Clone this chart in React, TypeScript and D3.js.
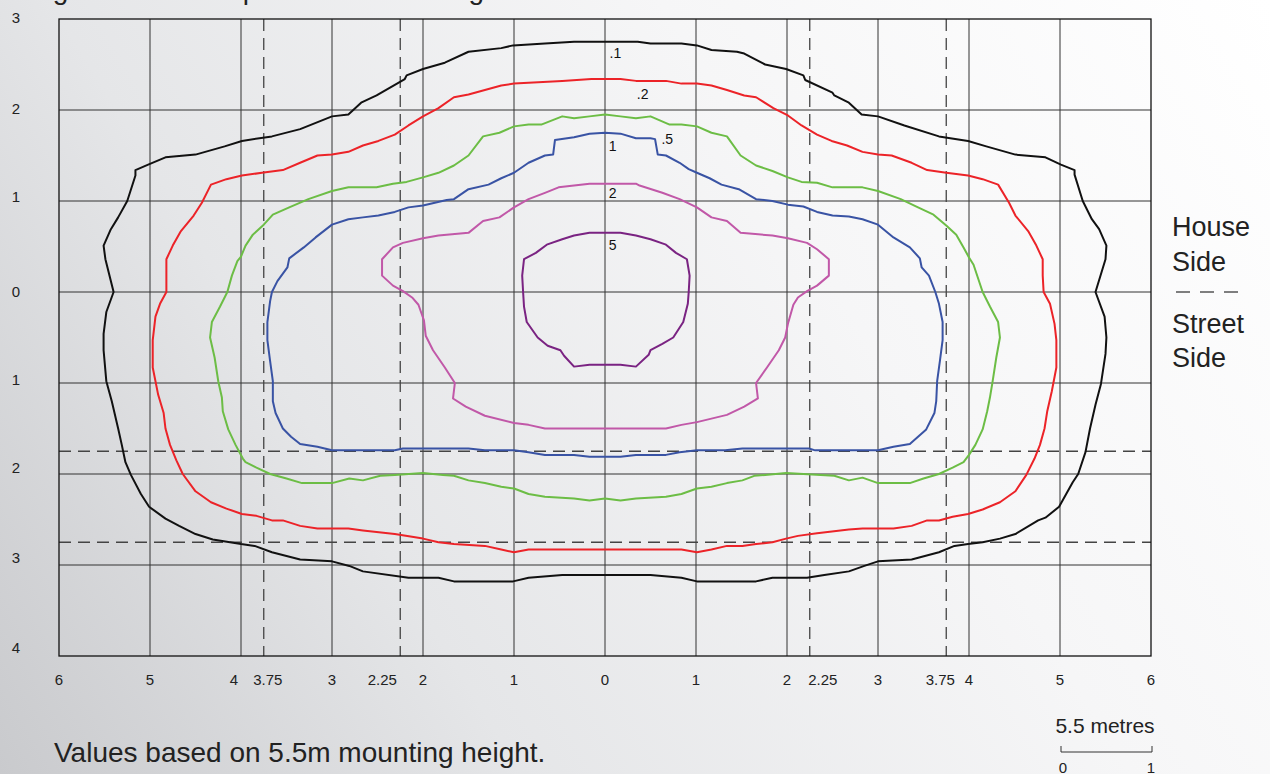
import React from "react";
import * as d3 from "d3";

type Pt = [number, number];

const W = 1270;
const H = 774;

// Axis ticks
const xGridValues = [-5, -4, -3, -2, -1, 0, 1, 2, 3, 4, 5];
const yGridValues = [-3, -2, -1, 0, 1, 2];
const xTickValues = [-6, -5, -4, -3.75, -3, -2.25, -2, -1, 0, 1, 2, 2.25, 3, 3.75, 4, 5, 6];
const yTickValues = [3, 2, 1, 0, -1, -2, -3, -4];
const xDashedValues = [-3.75, -2.25, 2.25, 3.75];
const yDashedValues = [-1.75, -2.75];

// Isolux contours (lux levels)
const levels = [".1", ".2", ".5", "1", "2", "5"];
const levelColors = ["#111111", "#ec2328", "#6cbd45", "#3953a4", "#c158a8", "#7a2382"];

const contour01: Pt[] = [
  [0, 2.75], [-0.34, 2.75], [-0.66, 2.73], [-1.01, 2.71], [-1.14, 2.68], [-1.5, 2.64], [-1.76, 2.52], [-2.0, 2.45], [-2.18, 2.38], [-2.2, 2.34], [-2.51, 2.16], [-2.68, 2.08], [-2.82, 1.95], [-3.0, 1.93], [-3.35, 1.79], [-3.66, 1.71], [-3.99, 1.66], [-4.18, 1.6], [-4.5, 1.51], [-4.83, 1.48], [-5.02, 1.4], [-5.16, 1.34], [-5.16, 1.28], [-5.25, 1.0], [-5.35, 0.82], [-5.43, 0.69], [-5.51, 0.51], [-5.49, 0.36], [-5.4, 0.0],
  [-5.48, -0.22], [-5.51, -0.46], [-5.51, -0.64], [-5.48, -0.98], [-5.42, -1.2], [-5.35, -1.5], [-5.31, -1.68], [-5.27, -1.87], [-5.21, -2.01], [-5.1, -2.22], [-5.01, -2.36], [-4.83, -2.49], [-4.68, -2.57], [-4.5, -2.66], [-4.31, -2.72], [-4.0, -2.77], [-3.85, -2.79], [-3.66, -2.86], [-3.35, -2.94], [-3.0, -2.96], [-2.81, -3.01], [-2.66, -3.07], [-2.16, -3.14], [-1.83, -3.14], [-1.66, -3.18], [-1.01, -3.18], [-0.84, -3.14], [-0.47, -3.11], [0, -3.11],
  [0.5, -3.11], [0.84, -3.14], [1.01, -3.18], [1.66, -3.18], [1.84, -3.14], [2.22, -3.14], [2.41, -3.11], [2.68, -3.07], [2.85, -3.01], [3.0, -2.96], [3.37, -2.94], [3.67, -2.86], [3.84, -2.79], [3.99, -2.77], [4.15, -2.75], [4.34, -2.71], [4.51, -2.66], [4.76, -2.51], [4.84, -2.48], [4.99, -2.36], [5.14, -2.09], [5.2, -2.0], [5.28, -1.76], [5.33, -1.5], [5.39, -1.24], [5.45, -1.01], [5.5, -0.68], [5.51, -0.5], [5.49, -0.27], [5.39, 0.0],
  [5.5, 0.36], [5.51, 0.51], [5.43, 0.69], [5.35, 0.8], [5.25, 1.0], [5.16, 1.29], [5.16, 1.34], [5.01, 1.4], [4.84, 1.48], [4.51, 1.51], [4.19, 1.6], [3.99, 1.66], [3.67, 1.71], [3.29, 1.83], [3.0, 1.93], [2.82, 1.95], [2.68, 2.08], [2.52, 2.16], [2.5, 2.19], [2.2, 2.33], [2.18, 2.38], [1.99, 2.45], [1.76, 2.5], [1.53, 2.62], [1.45, 2.64], [1.17, 2.66], [1.01, 2.71], [0.84, 2.73], [0.5, 2.73], [0.36, 2.75],
];

const contour02: Pt[] = [
  [0, 2.34], [-0.15, 2.34], [-0.47, 2.32], [-0.84, 2.3], [-1.0, 2.29], [-1.14, 2.27], [-1.32, 2.22], [-1.5, 2.17], [-1.66, 2.14], [-1.83, 2.02], [-2.0, 1.93], [-2.16, 1.83], [-2.31, 1.73], [-2.49, 1.66], [-2.66, 1.61], [-2.82, 1.54], [-3.0, 1.51], [-3.16, 1.5], [-3.35, 1.42], [-3.54, 1.34], [-3.77, 1.31], [-3.99, 1.28], [-4.16, 1.24], [-4.33, 1.18], [-4.43, 0.98], [-4.52, 0.84], [-4.66, 0.67], [-4.75, 0.51], [-4.82, 0.36], [-4.82, 0.18], [-4.82, 0.0],
  [-4.89, -0.13], [-4.94, -0.27], [-4.97, -0.53], [-4.97, -0.83], [-4.91, -1.13], [-4.85, -1.33], [-4.83, -1.5], [-4.78, -1.68], [-4.71, -1.85], [-4.64, -2.0], [-4.5, -2.19], [-4.33, -2.31], [-4.16, -2.38], [-3.99, -2.44], [-3.83, -2.46], [-3.66, -2.51], [-3.54, -2.51], [-3.35, -2.57], [-3.16, -2.6], [-2.82, -2.6], [-2.66, -2.62], [-2.31, -2.66], [-2.0, -2.71], [-1.83, -2.75], [-1.66, -2.77], [-1.32, -2.79], [-1.14, -2.83], [-1.0, -2.86], [-0.84, -2.83], [0, -2.83],
  [0.84, -2.83], [1.01, -2.86], [1.17, -2.83], [1.34, -2.79], [1.51, -2.79], [1.66, -2.77], [1.84, -2.75], [1.99, -2.71], [2.12, -2.68], [2.33, -2.65], [2.68, -2.61], [2.83, -2.6], [3.17, -2.6], [3.37, -2.57], [3.54, -2.51], [3.67, -2.51], [3.82, -2.47], [3.99, -2.44], [4.15, -2.39], [4.34, -2.31], [4.51, -2.19], [4.63, -2.01], [4.72, -1.83], [4.78, -1.68], [4.83, -1.5], [4.86, -1.31], [4.91, -1.09], [4.96, -0.83], [4.96, -0.53], [4.94, -0.35], [4.89, -0.13], [4.82, 0.0],
  [4.81, 0.18], [4.81, 0.36], [4.74, 0.51], [4.65, 0.67], [4.51, 0.84], [4.44, 0.98], [4.32, 1.18], [4.15, 1.24], [3.99, 1.28], [3.75, 1.31], [3.54, 1.34], [3.37, 1.42], [3.15, 1.5], [3.0, 1.51], [2.83, 1.54], [2.66, 1.61], [2.49, 1.66], [2.33, 1.73], [2.16, 1.83], [2.01, 1.94], [1.85, 2.02], [1.66, 2.14], [1.53, 2.16], [1.34, 2.22], [1.17, 2.27], [1.01, 2.29], [0.84, 2.29], [0.67, 2.32], [0.34, 2.32], [0.17, 2.34],
];

const contour05: Pt[] = [
  [0, 1.95], [-0.17, 1.93], [-0.34, 1.91], [-0.47, 1.93], [-0.7, 1.84], [-0.84, 1.84], [-1.0, 1.82], [-1.16, 1.75], [-1.34, 1.71], [-1.5, 1.5], [-1.66, 1.39], [-1.83, 1.31], [-2.0, 1.26], [-2.18, 1.21], [-2.33, 1.19], [-2.51, 1.15], [-2.82, 1.15], [-3.0, 1.11], [-3.26, 1.02], [-3.47, 0.93], [-3.65, 0.85], [-3.75, 0.74], [-3.87, 0.63], [-3.95, 0.51], [-4.0, 0.39], [-4.04, 0.34], [-4.1, 0.18], [-4.15, 0.0],
  [-4.23, -0.16], [-4.32, -0.33], [-4.34, -0.5], [-4.29, -0.72], [-4.25, -0.98], [-4.21, -1.16], [-4.2, -1.31], [-4.14, -1.51], [-4.06, -1.68], [-3.98, -1.83], [-3.95, -1.87], [-3.83, -1.93], [-3.68, -2.0], [-3.5, -2.05], [-3.33, -2.1], [-3.0, -2.1], [-2.81, -2.05], [-2.66, -2.07], [-2.47, -2.02], [-2.31, -2.01], [-2.0, -1.99], [-1.78, -2.01], [-1.66, -2.02], [-1.5, -2.07], [-1.32, -2.1], [-1.14, -2.14], [-1.0, -2.16], [-0.84, -2.22], [-0.66, -2.25], [-0.34, -2.27], [-0.17, -2.29], [0, -2.27],
  [0.17, -2.29], [0.34, -2.27], [0.67, -2.25], [0.84, -2.22], [1.01, -2.16], [1.17, -2.14], [1.34, -2.1], [1.51, -2.07], [1.64, -2.02], [1.76, -2.01], [1.99, -1.99], [2.37, -2.01], [2.52, -2.02], [2.68, -2.07], [2.83, -2.04], [3.0, -2.1], [3.35, -2.1], [3.5, -2.05], [3.67, -2.0], [3.82, -1.93], [3.94, -1.87], [4.0, -1.79], [4.07, -1.68], [4.15, -1.51], [4.2, -1.31], [4.23, -1.16], [4.26, -0.98], [4.3, -0.72], [4.34, -0.5], [4.32, -0.33], [4.23, -0.16], [4.15, 0.0],
  [4.05, 0.3], [4.0, 0.38], [3.94, 0.49], [3.86, 0.63], [3.75, 0.73], [3.61, 0.85], [3.44, 0.93], [3.25, 1.02], [3.0, 1.11], [2.83, 1.15], [2.5, 1.15], [2.33, 1.2], [2.16, 1.21], [2.01, 1.26], [1.84, 1.33], [1.66, 1.39], [1.49, 1.5], [1.34, 1.71], [1.17, 1.75], [1.01, 1.82], [0.84, 1.84], [0.71, 1.84], [0.5, 1.93], [0.34, 1.91], [0.17, 1.93],
];

const contour1: Pt[] = [
  [0, 1.75], [-0.17, 1.74], [-0.34, 1.7], [-0.55, 1.67], [-0.57, 1.51], [-0.66, 1.5], [-0.84, 1.42], [-1.0, 1.31], [-1.14, 1.25], [-1.28, 1.18], [-1.5, 1.13], [-1.66, 1.02], [-1.74, 1.01], [-2.0, 0.95], [-2.16, 0.93], [-2.31, 0.88], [-2.49, 0.84], [-2.66, 0.82], [-2.82, 0.8], [-3.0, 0.74], [-3.18, 0.6], [-3.31, 0.49], [-3.47, 0.37], [-3.49, 0.27], [-3.6, 0.12], [-3.66, 0.0],
  [-3.68, -0.1], [-3.71, -0.33], [-3.71, -0.53], [-3.68, -0.76], [-3.65, -0.98], [-3.65, -1.2], [-3.62, -1.33], [-3.54, -1.5], [-3.45, -1.59], [-3.35, -1.67], [-3.16, -1.7], [-3.0, -1.74], [-2.31, -1.74], [-2.22, -1.72], [-1.5, -1.72], [-1.32, -1.74], [-1.0, -1.74], [-0.84, -1.76], [-0.66, -1.79], [-0.34, -1.79], [-0.17, -1.81], [0, -1.81],
  [0.17, -1.81], [0.34, -1.79], [0.67, -1.79], [0.82, -1.76], [1.01, -1.74], [1.32, -1.74], [1.51, -1.72], [2.24, -1.72], [2.31, -1.74], [3.0, -1.74], [3.17, -1.7], [3.35, -1.67], [3.53, -1.51], [3.62, -1.33], [3.64, -1.2], [3.65, -0.98], [3.68, -0.76], [3.71, -0.53], [3.71, -0.33], [3.67, -0.13], [3.63, 0.0],
  [3.56, 0.18], [3.48, 0.27], [3.46, 0.37], [3.35, 0.49], [3.17, 0.6], [3.0, 0.74], [2.83, 0.8], [2.68, 0.83], [2.5, 0.84], [2.33, 0.88], [2.18, 0.94], [2.01, 0.96], [1.84, 1.0], [1.66, 1.02], [1.47, 1.13], [1.28, 1.18], [1.15, 1.25], [1.01, 1.31], [0.92, 1.35], [0.82, 1.42], [0.67, 1.5], [0.58, 1.51], [0.55, 1.68], [0.5, 1.69], [0.34, 1.69], [0.17, 1.74],
];

const contour2: Pt[] = [
  [0, 1.19], [-0.17, 1.19], [-0.34, 1.17], [-0.51, 1.15], [-0.66, 1.09], [-0.84, 1.02], [-1.0, 0.93], [-1.16, 0.82], [-1.34, 0.78], [-1.5, 0.65], [-1.83, 0.62], [-2.0, 0.59], [-2.22, 0.54], [-2.33, 0.49], [-2.45, 0.36], [-2.45, 0.18], [-2.33, 0.07], [-2.22, 0.01], [-2.12, -0.06], [-2.05, -0.14], [-1.99, -0.31], [-1.97, -0.48], [-1.89, -0.64], [-1.76, -0.83], [-1.65, -1.0], [-1.67, -1.17], [-1.53, -1.26], [-1.32, -1.36], [-1.0, -1.44], [-0.84, -1.46], [-0.66, -1.5], [0, -1.5],
  [0.67, -1.5], [0.84, -1.46], [1.01, -1.43], [1.34, -1.35], [1.53, -1.26], [1.68, -1.17], [1.66, -1.0], [1.78, -0.83], [1.91, -0.64], [1.98, -0.5], [2.01, -0.35], [2.07, -0.14], [2.12, -0.06], [2.22, 0.01], [2.33, 0.07], [2.46, 0.18], [2.46, 0.36], [2.33, 0.47], [2.22, 0.54], [2.01, 0.59], [1.84, 0.62], [1.49, 0.65], [1.34, 0.78], [1.17, 0.82], [1.01, 0.93], [0.82, 1.02], [0.63, 1.09], [0.38, 1.17], [0.34, 1.19],
];

const contour5: Pt[] = [
  [0, 0.65], [-0.17, 0.65], [-0.34, 0.62], [-0.47, 0.58], [-0.64, 0.52], [-0.76, 0.43], [-0.89, 0.36], [-0.91, 0.18], [-0.9, 0.0], [-0.89, -0.16], [-0.86, -0.33], [-0.74, -0.5], [-0.63, -0.59], [-0.49, -0.64], [-0.45, -0.7], [-0.34, -0.82], [-0.17, -0.8], [0, -0.8],
  [0.17, -0.8], [0.34, -0.82], [0.48, -0.69], [0.5, -0.64], [0.63, -0.57], [0.75, -0.5], [0.86, -0.33], [0.91, -0.13], [0.92, 0.0], [0.93, 0.18], [0.9, 0.36], [0.78, 0.43], [0.67, 0.52], [0.5, 0.58], [0.34, 0.62], [0.17, 0.65],
];

const contours: Pt[][] = [contour01, contour02, contour05, contour1, contour2, contour5];

// Where each level's label sits (data coordinates)
const labelAnchors: Pt[] = [[0.05, 2.57], [0.35, 2.12], [0.62, 1.63], [0.04, 1.55], [0.04, 1.03], [0.04, 0.46]];

const FONT = "'Liberation Sans', Arial, Helvetica, sans-serif";

export default function App() {
  const x = d3.scaleLinear().domain([-6, 6]).range([59, 1151]);
  const y = d3.scaleLinear().domain([-4, 3]).range([656, 19]);
  const line = d3
    .line<Pt>()
    .x((d) => x(d[0]))
    .y((d) => y(d[1]))
    .curve(d3.curveLinearClosed);

  const xNudge: Record<string, number> = { "-4": -7, "-3.75": 4, "-2.25": -18, "2.25": 13, "3.75": -6 };
  const yNudge: Record<string, number> = { "3": -1, "2": -1, "1": -4, "0": 0, "-1": -3, "-2": -6, "-3": -7, "-4": -8 };
  const fmt = (v: number) => String(Math.abs(v));

  return (
    <svg
      width={W}
      height={H}
      viewBox={`0 0 ${W} ${H}`}
      style={{ position: "absolute", left: 0, top: 0, display: "block" }}
    >
      <defs>
        <linearGradient id="bg" x1="0" y1={H} x2={W} y2="0" gradientUnits="userSpaceOnUse">
          <stop offset="0" stopColor="#c9cacd" />
          <stop offset="0.3" stopColor="#e5e6e8" />
          <stop offset="0.65" stopColor="#f6f6f7" />
          <stop offset="1" stopColor="#ffffff" />
        </linearGradient>
      </defs>
      <rect x={0} y={0} width={W} height={H} fill="url(#bg)" />

      {/* Title, mostly cropped above the frame */}
      <text x={31} y={-1} fontFamily={FONT} fontSize={28} fill="#222">
        Light distribution pattern at mounting
      </text>

      {/* grid */}
      <g stroke="#333" strokeWidth={1}>
        {xGridValues.map((v) => (
          <line key={"gx" + v} x1={x(v)} x2={x(v)} y1={y(3)} y2={y(-4)} />
        ))}
        {yGridValues.map((v) => (
          <line key={"gy" + v} x1={x(-6)} x2={x(6)} y1={y(v)} y2={y(v)} />
        ))}
      </g>
      <g stroke="#444" strokeWidth={1.3} strokeDasharray="12 7">
        {xDashedValues.map((v) => (
          <line key={"dx" + v} x1={x(v)} x2={x(v)} y1={y(3)} y2={y(-4)} />
        ))}
        {yDashedValues.map((v) => (
          <line key={"dy" + v} x1={x(-6)} x2={x(6)} y1={y(v)} y2={y(v)} />
        ))}
        <line x1={x(6) + 25} x2={1240} y1={y(0)} y2={y(0)} strokeDasharray="14 10" stroke="#555" />
      </g>
      <rect x={x(-6)} y={y(3)} width={x(6) - x(-6)} height={y(-4) - y(3)} fill="none" stroke="#111" strokeWidth={1.3} />

      {/* contours */}
      <g fill="none" strokeWidth={2} strokeLinejoin="round">
        {contours.map((c, i) => (
          <path key={"c" + i} d={line(c) || ""} stroke={levelColors[i]} />
        ))}
      </g>

      {/* contour labels */}
      <g fontFamily={FONT} fontSize={14} fill="#111">
        {levels.map((l, i) => (
          <text key={"l" + i} x={x(labelAnchors[i][0])} y={y(labelAnchors[i][1])}>
            {l}
          </text>
        ))}
      </g>

      {/* axis labels */}
      <g fontFamily={FONT} fontSize={15} fill="#222" textAnchor="middle">
        {xTickValues.map((v) => (
          <text key={"tx" + v} x={x(v) + (xNudge[String(v)] || 0)} y={685}>
            {fmt(v)}
          </text>
        ))}
        {yTickValues.map((v) => (
          <text key={"ty" + v} x={16} y={y(v) + (yNudge[String(v)] || 0) + 5}>
            {fmt(v)}
          </text>
        ))}
      </g>

      {/* side labels */}
      <g fontFamily={FONT} fontSize={27} fill="#222">
        <text x={1172} y={236}>House</text>
        <text x={1172} y={271}>Side</text>
        <text x={1172} y={333}>Street</text>
        <text x={1172} y={367}>Side</text>
      </g>

      {/* footnote */}
      <text x={54} y={762} fontFamily={FONT} fontSize={28} fill="#222">
        Values based on 5.5m mounting height.
      </text>

      {/* scale bar */}
      <g fontFamily={FONT} fill="#222">
        <text x={1105} y={733} fontSize={21} textAnchor="middle">5.5 metres</text>
        <path
          d={`M${x(0) + 456},746 V752 H${x(1) + 456} V746`}
          fill="none"
          stroke="#333"
          strokeWidth={1}
        />
        <text x={x(0) + 458} y={773} fontSize={15} textAnchor="middle">0</text>
        <text x={x(1) + 455} y={773} fontSize={15} textAnchor="middle">1</text>
      </g>
    </svg>
  );
}
